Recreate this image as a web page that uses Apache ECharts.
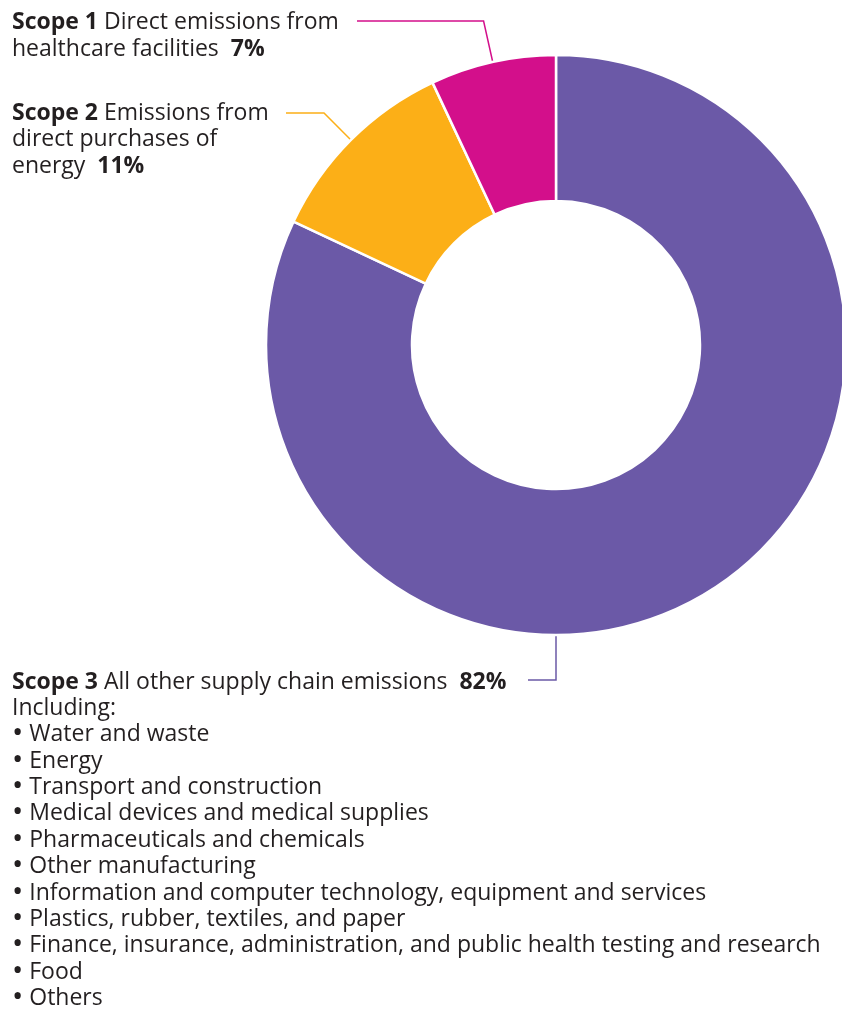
<!DOCTYPE html>
<html><head><meta charset="utf-8">
<script src="https://cdn.jsdelivr.net/npm/echarts@6/dist/echarts.min.js"></script>
<style>html,body{margin:0;padding:0;background:#fff}#c{width:842px;height:1011px}</style>
</head><body><div id="c"></div>
<script>
// ---- data ----
const categories = ['Scope 3', 'Scope 2', 'Scope 1'];
const descriptions = [
  ['All other supply chain emissions'],
  ['Emissions from', 'direct purchases of', 'energy'],
  ['Direct emissions from', 'healthcare facilities']
];
const values = [82, 11, 7];
const scope3Intro = 'Including:';
const scope3Items = [
  'Water and waste', 'Energy', 'Transport and construction',
  'Medical devices and medical supplies', 'Pharmaceuticals and chemicals',
  'Other manufacturing',
  'Information and computer technology, equipment and services',
  'Plastics, rubber, textiles, and paper',
  'Finance, insurance, administration, and public health testing and research',
  'Food', 'Others'
];

// ---- layout / style ----
const colors = ['#6b59a7', '#fcaf17', '#d30f8b'];
const CX = 556, CY = 345, R_IN = 144, R_OUT = 290;
const FONT = '"Open Sans"';
const FS = 23;
const TEXT_COLOR = '#231f20';
const LABEL_X = 12;
const labelTop = [669, 100, 8.5];
const lineHeights = [26.35, 26.5, 27];
const lineY = [680, 113, 21];
const lineEndX = [528, 286, 357];

const total = values.reduce((a, b) => a + b, 0);
// anchor angle (deg clockwise from 12 o'clock) where each leader line leaves the ring
const anchorAngle = [];
let acc = 0;
values.forEach((v, i) => {
  const mid = (acc + v / 2) / total * 360;
  anchorAngle.push(i === 0 ? 180 : mid);
  acc += v;
});

function labelText(i) {
  const d = descriptions[i];
  const lines = d.map((t, k) => {
    let s = '';
    if (k === 0) s += '{b|' + categories[i] + '}{n| }';
    s += '{n|' + t + '}';
    if (k === d.length - 1) s += '{n|  }{b|' + values[i] + '%}';
    return s;
  });
  if (i === 0) {
    lines.push('{n|' + scope3Intro + '}');
    scope3Items.forEach(t => lines.push('{d|•}{n| ' + t + '}'));
  }
  return lines.join('\n');
}

function rich(lh) {
  return {
    n: { fontFamily: FONT, fontSize: FS, color: TEXT_COLOR, lineHeight: lh },
    b: { fontFamily: FONT, fontSize: FS, fontWeight: 'bold', color: TEXT_COLOR, lineHeight: lh },
    d: { fontFamily: FONT, fontSize: 30, color: TEXT_COLOR, lineHeight: lh, padding: [0, 0, 2, 0] }
  };
}

const chart = echarts.init(document.getElementById('c'), null, { renderer: 'canvas' });
chart.setOption({
  animation: false,
  backgroundColor: '#ffffff',
  series: [{
    type: 'pie',
    center: [CX, CY],
    radius: [R_IN, R_OUT],
    startAngle: 90,
    clockwise: true,
    avoidLabelOverlap: false,
    silent: true,
    itemStyle: { borderColor: '#ffffff', borderWidth: 2.5 },
    emphasis: { disabled: true },
    label: {
      show: true,
      position: 'outside',
      fontFamily: FONT,
      fontSize: FS,
      color: TEXT_COLOR,
      formatter: p => labelText(p.dataIndex)
    },
    labelLine: { show: true, length: 20, length2: 20, lineStyle: { width: 1.5 } },
    labelLayout: function (params) {
      const i = params.dataIndex;
      const a = anchorAngle[i] * Math.PI / 180;
      const p0 = [CX + R_OUT * Math.sin(a), CY - R_OUT * Math.cos(a)];
      const dirx = Math.sin(a), diry = -Math.cos(a);
      const t = (lineY[i] - p0[1]) / diry;
      const p1 = [p0[0] + dirx * t, lineY[i]];
      const p2 = [lineEndX[i], lineY[i]];
      return {
        x: LABEL_X, y: labelTop[i], align: 'left', verticalAlign: 'top',
        labelLinePoints: [p0, p1, p2]
      };
    },
    data: categories.map((c, i) => ({
      name: c,
      value: values[i],
      itemStyle: { color: colors[i] },
      label: { lineHeight: lineHeights[i], rich: rich(lineHeights[i]) },
      labelLine: { lineStyle: { color: colors[i], width: 1.5 } }
    }))
  }]
});
</script>
</body></html>
